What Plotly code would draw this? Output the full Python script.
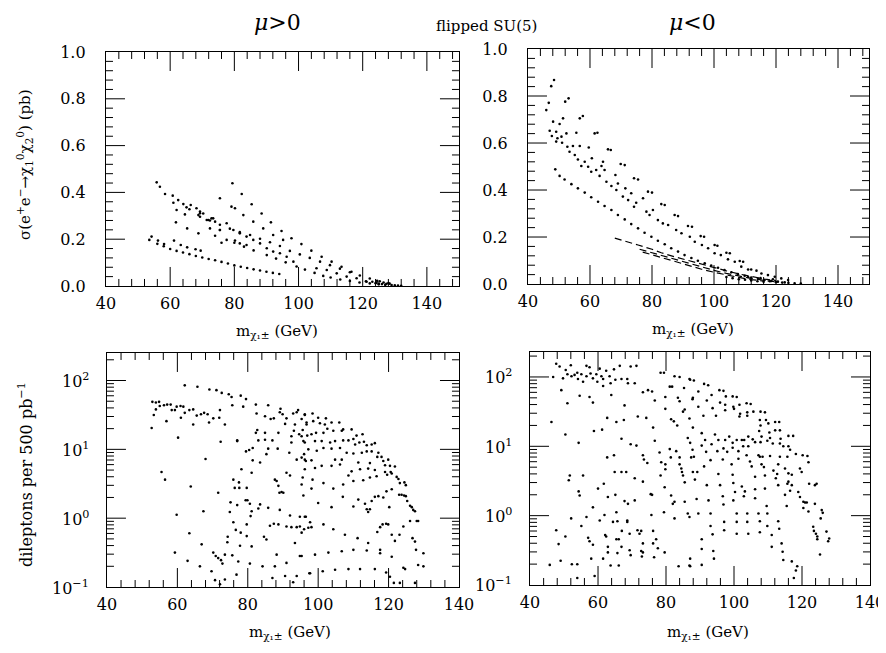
import plotly.graph_objects as go

# ---------------- top left: sigma(e+e- -> chi1 chi2), mu>0 ----------------
tl_scat_x = [55.8, 56.8, 58.4, 60.8, 61.0, 62.5, 64.1, 62.0, 65.1, 66.0, 64.6, 61.8, 66.4, 68.2, 69.3,
             68.8, 70.3, 71.9, 72.9, 74.0, 65.3, 68.8, 72.4, 75.5, 75.5, 76.0, 79.4, 79.1, 80.2, 82.3,
             82.8, 85.4, 85.9, 88.5, 89.0, 91.4, 92.1, 94.7, 95.2, 97.8, 100.9, 104.0, 107.2, 110.3,
             113.4, 116.5, 80.2, 81.7, 83.8, 54.2, 56.2, 58.1, 61.2, 63.3, 65.3, 67.9, 69.5,
             121.0, 123.0, 124.0, 125.0, 126.0, 127.0, 128.0, 129.0, 130.0, 131.0, 132.0, 126.5, 124.5]
tl_scat_y = [0.443, 0.424, 0.393, 0.386, 0.356, 0.367, 0.350, 0.325, 0.336, 0.328, 0.306, 0.272, 0.346,
             0.332, 0.318, 0.303, 0.310, 0.282, 0.289, 0.275, 0.246, 0.225, 0.246, 0.375, 0.239, 0.185,
             0.439, 0.339, 0.332, 0.393, 0.303, 0.349, 0.275, 0.310, 0.246, 0.272, 0.218, 0.235, 0.197,
             0.204, 0.179, 0.151, 0.125, 0.104, 0.082, 0.061, 0.194, 0.182, 0.175, 0.211, 0.194, 0.179,
             0.194, 0.175, 0.165, 0.157, 0.151,
             0.020, 0.018, 0.012, 0.010, 0.008, 0.005, 0.012, 0.004, 0.003, 0.002, 0.001, 0.015, 0.022]
tl_band1_x = [69.3, 72.4, 75.5, 78.6, 81.7, 84.9, 88.0, 91.1, 94.2, 97.3, 100.4, 103.5, 106.7, 109.8,
              112.9, 116.0, 119.1, 122.2, 125.3, 128.4]
tl_band1_y = [0.296, 0.280, 0.262, 0.245, 0.230, 0.218, 0.202, 0.187, 0.171, 0.150, 0.135, 0.120, 0.104,
              0.089, 0.074, 0.059, 0.045, 0.032, 0.020, 0.010]
tl_band1b_x = [69.3, 71.4, 73.4, 75.5, 77.6, 79.7, 81.7, 83.8, 85.9, 88.0, 90.1, 92.1, 94.2, 96.3, 98.4,
               105.6, 108.8, 111.9, 115.0, 118.1, 121.2, 124.3, 127.4]
tl_band1b_y = [0.311, 0.282, 0.289, 0.239, 0.268, 0.239, 0.225, 0.211, 0.197, 0.182, 0.161, 0.147, 0.140,
               0.125, 0.104, 0.076, 0.068, 0.054, 0.040, 0.033, 0.018, 0.014, 0.009]
tl_band2_x = [74.0, 77.6, 80.0, 83.0, 86.0, 90.1, 93.0, 96.0, 99.4, 102.0, 105.0, 107.7, 110.0, 113.0,
              116.0, 119.0, 122.2, 125.0]
tl_band2_y = [0.215, 0.197, 0.185, 0.168, 0.152, 0.132, 0.117, 0.101, 0.083, 0.070, 0.056, 0.043, 0.036,
              0.028, 0.021, 0.015, 0.011, 0.007]
tl_band3_x = [53.5, 56.0, 58.0, 60.0, 62.0, 64.0, 66.0, 68.0, 70.0, 72.0, 74.0, 76.0, 78.0, 80.0, 82.0,
              84.0, 86.0, 88.0, 90.0, 92.0, 94.0]
tl_band3_y = [0.197, 0.180, 0.170, 0.158, 0.150, 0.143, 0.136, 0.128, 0.122, 0.115, 0.110, 0.103, 0.096,
              0.088, 0.082, 0.077, 0.071, 0.066, 0.061, 0.056, 0.051]

# ---------------- top right: sigma, mu<0 ----------------
tr_scat_x = [48.4, 47.5, 46.7, 45.9, 52.0, 53.1, 48.1, 51.3, 50.2, 47.0, 49.1, 47.7, 49.5, 50.8, 52.4,
             55.6, 56.7, 57.7, 49.1, 51.0, 52.7, 53.4, 54.5, 55.1, 56.7, 56.1, 57.2, 58.3, 59.6, 59.4,
             60.6, 61.5, 62.4, 60.4, 62.0, 63.1, 63.7, 64.2, 64.7, 65.3, 65.8, 66.7, 66.9, 68.2, 68.5,
             69.0, 69.9, 71.2, 70.6, 71.4, 72.3, 73.3, 74.2, 75.5, 74.2, 74.9, 77.1, 78.2, 78.7, 80.0,
             79.2, 80.3, 81.9, 83.0, 84.1, 83.5, 85.2, 87.3, 88.4, 87.8, 89.5, 91.6, 92.9, 92.2, 93.8,
             95.7, 96.8, 96.1, 98.1, 100.2, 101.1, 100.2, 102.2, 104.0, 105.1, 104.5, 106.7, 108.3,
             109.4, 108.8, 111.0, 112.0, 113.7, 115.3, 117.4, 119.6, 121.7, 123.9,
             104.0, 106.0, 108.0, 110.0, 112.0, 114.0, 116.0, 118.0, 120.0, 122.0, 124.0, 126.0,
             128.0, 111.0, 115.0, 119.0]
tr_scat_y = [0.868, 0.842, 0.771, 0.740, 0.776, 0.790, 0.691, 0.705, 0.681, 0.652, 0.648, 0.630, 0.620,
             0.627, 0.641, 0.644, 0.705, 0.715, 0.606, 0.601, 0.584, 0.563, 0.587, 0.549, 0.587, 0.530,
             0.502, 0.520, 0.581, 0.499, 0.535, 0.641, 0.644, 0.478, 0.485, 0.460, 0.502, 0.520, 0.485,
             0.435, 0.573, 0.570, 0.417, 0.464, 0.400, 0.428, 0.511, 0.506, 0.372, 0.407, 0.357, 0.386,
             0.450, 0.445, 0.329, 0.346, 0.365, 0.308, 0.393, 0.389, 0.294, 0.315, 0.272, 0.340, 0.336,
             0.258, 0.251, 0.294, 0.289, 0.230, 0.216, 0.247, 0.244, 0.201, 0.180, 0.204, 0.201, 0.166,
             0.152, 0.166, 0.163, 0.131, 0.123, 0.133, 0.131, 0.105, 0.095, 0.098, 0.095, 0.074, 0.062,
             0.062, 0.057, 0.045, 0.038, 0.031, 0.024, 0.017,
             0.030, 0.025, 0.020, 0.018, 0.015, 0.012, 0.010, 0.012, 0.008, 0.006, 0.005, 0.003,
             0.002, 0.030, 0.025, 0.020]
tr_curve_x = [48.8, 50.2, 51.8, 54.0, 56.1, 58.3, 60.4, 62.6, 64.7, 66.9, 69.0, 71.2, 73.3, 75.5, 77.6,
              79.8, 81.9, 84.1, 86.2, 88.4, 90.5, 92.7, 94.8, 97.0, 99.1, 101.3, 103.4, 105.6, 107.7,
              109.9, 112.0, 114.2, 116.3, 118.5, 120.6, 122.8]
tr_curve_y = [0.488, 0.460, 0.445, 0.425, 0.407, 0.389, 0.369, 0.350, 0.332, 0.315, 0.294, 0.275, 0.255,
              0.237, 0.218, 0.201, 0.184, 0.169, 0.152, 0.138, 0.123, 0.111, 0.099, 0.088, 0.079, 0.069,
              0.059, 0.050, 0.042, 0.035, 0.028, 0.022, 0.017, 0.013, 0.010, 0.007]
tr_d1_x = [68, 72, 75.5, 80, 83, 87.3, 91.6, 95.9, 100, 104, 108, 112, 116, 120]
tr_d1_y = [0.195, 0.178, 0.166, 0.148, 0.133, 0.116, 0.100, 0.085, 0.070, 0.056, 0.043, 0.032, 0.022, 0.014]
tr_d2_x = [76, 80, 84, 88, 92, 96, 100, 104, 108, 112, 116, 120]
tr_d2_y = [0.148, 0.133, 0.117, 0.101, 0.086, 0.071, 0.058, 0.045, 0.034, 0.024, 0.016, 0.009]
tr_d3_x = [77, 80, 84, 88, 92, 96, 100, 104, 108, 112, 116]
tr_d3_y = [0.136, 0.124, 0.108, 0.092, 0.077, 0.063, 0.050, 0.038, 0.028, 0.019, 0.012]

# ---------------- bottom left: dileptons per 500 pb^-1, mu>0 (log10 readings) ----------------
bl_x = [62.1, 65.7, 69.1, 71.1, 72.6, 74.6, 75.4, 78.0, 79.5, 52.9, 53.9, 54.8, 55.0, 56.2, 57.1, 58.1,
        59.8, 60.9, 61.7, 53.9, 58.4, 59.3, 63.4, 64.5, 53.3, 62.1, 65.5, 66.7, 67.6, 68.6, 72.1, 75.6,
        78.7, 61.0, 56.9, 70.2, 64.5, 69.0, 73.5, 71.9, 52.7, 60.2, 72.3, 77.0, 68.0, 55.5, 56.5, 63.8,
        71.6, 59.8, 67.4, 63.4, 59.3, 66.9, 62.9, 66.4, 69.7, 70.7, 72.1, 73.5, 70.2, 70.9, 71.6, 72.4,
        72.8, 73.5, 74.3, 74.2, 74.9, 75.6, 77.3, 76.8, 75.9, 76.3, 77.6, 79.7, 78.2, 77.5, 75.1, 77.0,
        79.4, 79.9, 80.6, 81.1, 80.8, 75.9, 76.6, 78.0, 79.7, 79.7, 77.8, 81.1, 77.0, 79.5, 80.4, 81.4,
        81.1, 81.4, 82.3, 82.5, 82.7, 82.3, 83.0, 83.5, 84.9, 84.9, 84.9, 85.3, 85.8, 85.8, 86.5, 87.0,
        87.4, 88.7, 88.5, 89.1, 89.3, 89.9, 90.6, 91.0, 90.1, 91.0, 91.8, 92.0, 92.4, 92.4, 92.9, 93.1,
        93.4, 93.9, 93.9, 94.3, 94.6, 95.3, 95.6, 95.8, 96.0, 96.2, 96.2, 96.5, 96.7, 96.9, 87.7, 88.2,
        88.7, 89.0, 89.6, 83.5, 83.0, 85.8, 86.3, 88.7, 89.1, 92.0, 92.4, 93.9, 96.0, 96.5, 97.2, 84.6,
        85.3, 87.4, 91.0, 88.2, 87.7, 91.0, 93.4, 95.3, 93.9, 90.6, 80.6, 84.2, 87.0, 92.9, 97.5,
        96.2, 98.4, 100.0, 102.2, 103.8, 106.0, 95.3, 96.7, 98.6, 100.5, 101.9, 107.1, 109.5, 110.9,
        112.6, 95.3, 98.1, 99.4, 101.5, 102.6, 104.3, 106.7, 96.2, 99.1, 101.0, 103.4, 104.8, 107.1,
        108.6, 110.0, 110.5, 111.7, 113.0, 113.8, 115.2, 116.1, 97.2, 99.6, 101.5, 103.8, 106.2, 108.1,
        110.0, 112.4, 113.8, 115.2, 117.1, 118.0, 116.8, 118.5, 119.9, 119.0, 120.4, 121.8, 95.3, 96.2,
        98.1, 104.8, 106.7, 111.4, 114.7, 99.1, 101.0, 103.8, 106.2, 109.5, 111.9, 114.2, 116.1, 119.0,
        120.6, 119.6, 120.9, 122.3, 122.8, 123.2, 124.5, 124.9, 95.6, 98.4, 101.5, 104.3, 107.1, 108.6,
        110.0, 112.8, 114.7, 116.6, 119.4, 120.9, 123.0, 123.7, 124.4, 124.9, 125.3, 126.1, 126.6,
        127.0, 127.5, 128.0, 95.8, 98.1, 100.0, 103.8, 107.0, 110.0, 111.4, 113.3, 113.8, 114.2, 114.7,
        115.2, 116.1, 117.1, 118.5, 120.2, 116.8, 117.6, 118.3, 119.3, 119.9, 120.9, 121.8, 123.1,
        124.2, 126.1, 126.8, 127.5, 127.8, 128.4, 129.9, 128.4, 129.9, 94.8, 96.2, 97.7, 101.5, 104.3,
        107.6, 111.2, 114.2, 117.6, 120.9, 94.8, 95.3, 98.1, 99.1, 102.9, 106.7, 110.0, 113.8, 117.6,
        94.8, 97.7, 101.3, 104.8, 108.6, 111.9, 116.1, 119.3, 120.4, 121.5, 124.2, 124.7, 127.5, 123.2]
bl_exp = [1.93, 1.91, 1.87, 1.86, 1.82, 1.80, 1.76, 1.78, 1.73, 1.69, 1.68, 1.69, 1.63, 1.64, 1.65,
          1.65, 1.62, 1.63, 1.62, 1.58, 1.57, 1.57, 1.57, 1.58, 1.50, 1.53, 1.49, 1.51, 1.53, 1.51,
          1.57, 1.64, 1.62, 1.46, 1.41, 1.45, 1.36, 1.39, 1.36, 1.46, 1.31, 1.17, 1.11, 1.12, 0.86,
          0.67, 0.56, 0.46, 0.37, 0.05, 0.10, -0.22, -0.50, -0.38, -0.62, -0.70, -0.77, -0.90, -0.96,
          -0.89, -0.50, -0.55, -0.58, -0.61, -0.66, -0.53, -0.27, -0.35, 0.09, -0.54, -0.63, -0.82,
          0.56, 0.44, 0.44, 0.44, 0.71, 0.52, 0.23, 0.19, 0.26, 0.26, 0.21, 0.10, 0.03, -0.06, -0.17,
          -0.21, -0.09, -0.26, -0.40, -0.41, 1.13, 0.97, 0.99, 1.02, 0.66, 0.84, 1.65, 1.52, 1.28, 1.24,
          1.13, 0.81, 1.14, 1.48, 1.24, 0.93, 1.64, 1.01, 1.44, 1.13, 1.45, 1.24, 1.01, 1.54, 1.59, 1.51,
          1.37, 1.45, 0.37, 0.66, 0.95, 0.62, 1.10, 1.19, 1.52, 1.27, 1.36, 0.85, 1.54, 1.57, 1.22, 0.49,
          1.28, 1.12, 0.93, 1.51, 0.71, 0.83, 1.36, 1.20, 0.56, 0.54, 0.47, 0.37, 0.38, 0.20, 0.14, 0.15,
          -0.11, -0.09, 0.12, 0.04, -0.13, -0.13, -0.16, 0.02, -0.14, -0.27, -0.31, -0.08, -0.12, -0.53,
          -0.70, -0.65, -0.36, -0.55, -0.84, -0.84, -0.66, -0.70, -0.87, -0.93, -0.80,
          1.50, 1.52, 1.46, 1.45, 1.39, 1.39, 1.44, 1.39, 1.41, 1.38, 1.36, 1.29, 1.29, 1.20, 1.22, 1.19,
          1.22, 1.24, 1.24, 1.30, 1.27, 1.27, 1.10, 1.12, 1.12, 1.10, 1.12, 1.13, 1.13, 1.15, 1.07, 1.10,
          1.11, 1.06, 1.07, 1.09, 1.00, 0.98, 1.02, 1.01, 1.02, 0.95, 0.94, 0.95, 0.97, 0.97, 0.95, 0.89,
          0.89, 0.83, 0.85, 0.77, 0.76, 0.75, 0.88, 0.85, 0.84, 0.85, 0.85, 0.81, 0.80, 0.73, 0.76, 0.76,
          0.78, 0.68, 0.71, 0.72, 0.70, 0.67, 0.67, 0.63, 0.65, 0.60, 0.57, 0.51, 0.52, 0.48, 0.59, 0.56,
          0.51, 0.43, 0.49, 0.62, 0.54, 0.55, 0.59, 0.61, 0.39, 0.42, 0.34, 0.34, 0.33, 0.32, 0.25, 0.18,
          0.16, 0.12, 0.10, -0.04, 0.33, 0.43, 0.22, 0.16, 0.31, 0.17, 0.27, 0.21, 0.13, 0.09, 0.13, 0.25,
          0.31, 0.32, 0.30, 0.16, -0.20, -0.13, -0.09, -0.08, -0.09, -0.24, -0.33, -0.24, -0.12, -0.04,
          -0.29, -0.34, -0.46, -0.04, -0.51, -0.68, -0.70, 0.02, 0.02, -0.06, -0.09, -0.16, -0.24, -0.29,
          -0.36, -0.46, -0.56, -0.12, -0.21, -0.13, -0.53, -0.50, -0.48, -0.46, -0.47, -0.51, -0.55,
          -0.80, -0.77, -0.75, -0.74, -0.74, -0.74, -0.79, -0.85, -0.94, -0.72, -0.74, -0.94, -0.94]

# ---------------- bottom right: dileptons per 500 pb^-1, mu<0 (log10 readings) ----------------
br_x = [47.7, 48.7, 52.0, 46.8, 49.7, 50.5, 51.0, 52.2, 53.1, 53.9, 54.1, 55.1, 55.6, 56.6, 56.6, 57.5,
        57.8, 58.5, 59.5, 59.8, 60.5, 61.0, 61.5, 62.4, 63.4, 63.7, 64.7, 65.1, 66.4, 66.9, 68.6, 68.8,
        69.6, 70.8, 71.3, 73.2, 74.7, 75.9, 76.7, 78.4, 79.4, 79.8, 79.8, 82.5, 84.0, 81.1, 81.8, 83.5,
        84.0, 85.5, 85.3, 86.9, 87.9, 49.2, 54.6, 57.5, 51.0, 58.5, 61.5, 63.9, 67.8, 71.7, 74.2, 76.2,
        81.5, 82.3, 83.3, 85.0, 86.4, 86.9, 87.9, 46.3, 62.7, 65.4, 67.6, 58.8, 61.2, 50.4, 54.3, 66.9,
        69.6, 71.3, 73.2, 73.5, 74.5, 76.7, 78.1, 78.6, 79.8, 79.8, 81.1, 81.4, 83.0, 84.0, 84.0, 84.5,
        84.7, 85.0, 87.4, 87.9, 62.7, 64.7, 51.7, 51.4, 55.6, 61.7, 64.9, 66.9, 68.3, 70.8, 73.2, 75.5,
        75.9, 78.4, 79.6, 81.5, 82.0, 82.5, 85.5, 85.5, 54.3, 54.6, 60.0, 62.9, 65.1, 67.8, 68.8, 70.8,
        58.5, 61.9, 65.4, 68.6, 75.7, 79.4, 82.5, 86.4, 86.9, 52.1, 56.6, 55.1, 60.5, 64.4, 65.7, 68.6,
        47.7, 50.4, 57.1, 62.1, 62.4, 65.4, 66.1, 67.0, 69.3, 71.6, 72.7, 72.2, 73.2, 76.2, 77.1, 76.2,
        48.4, 57.5, 58.5, 62.9, 66.9, 69.3, 72.7, 73.2, 77.6, 79.6, 62.9, 65.7, 69.6, 72.9, 76.5, 58.0,
        61.5, 49.0, 52.3, 53.9, 45.8, 63.7, 66.1, 83.7, 86.9, 59.0, 53.9,
        87.1, 88.2, 91.2, 92.4, 89.5, 93.4, 95.7, 96.9, 97.6, 99.6, 100.8, 87.8, 92.0, 95.9, 97.4, 101.6,
        103.7, 104.9, 89.5, 93.7, 97.4, 99.8, 100.0, 101.8, 103.9, 105.7, 107.8, 109.1, 91.0, 94.7,
        101.6, 103.9, 107.6, 109.4, 107.8, 110.1, 112.1, 113.3, 107.4, 110.4, 112.1, 113.5, 108.1, 110.6,
        113.7, 116.0, 117.4, 90.5, 94.4, 98.6, 100.8, 104.2, 91.5, 95.4, 97.4, 99.6, 102.3, 103.0, 105.5,
        106.2, 107.8, 109.8, 111.4, 113.5, 114.5, 116.0, 87.1, 90.5, 93.4, 96.9, 99.6, 102.7, 104.2,
        87.8, 91.8, 95.1, 98.0, 101.3, 103.7, 107.2, 107.6, 108.4, 110.6, 113.5, 115.7, 116.5, 118.2,
        120.2, 121.6, 88.2, 93.1, 96.7, 99.3, 101.3, 104.7, 105.2, 108.1, 108.8, 113.0, 111.6, 112.7,
        115.0, 116.0, 117.0, 119.4, 119.9, 121.9, 122.1, 123.8, 124.3, 91.2, 89.2, 95.4, 99.6, 106.2,
        109.1, 112.3, 116.0, 115.7, 117.0, 88.5, 92.0, 95.9, 99.8, 102.3, 100.3, 103.2, 106.2, 109.1,
        113.0, 115.0, 116.5, 118.9, 119.4, 120.4, 120.9, 121.4, 120.4, 121.9, 123.8, 125.8, 126.1, 89.0,
        92.5, 96.7, 99.8, 102.9, 106.2, 109.6, 115.5, 89.5, 93.1, 96.9, 100.8, 103.9, 107.2, 109.8,
        113.0, 93.1, 97.1, 100.8, 103.9, 107.6, 109.8, 113.3, 123.3, 123.5, 124.1, 124.5, 124.5, 127.2,
        128.0, 127.7, 125.5, 125.3, 90.5, 93.7, 97.1, 100.8, 104.2, 107.6, 111.1, 114.0, 93.9, 90.5,
        111.1, 114.3, 114.5, 117.0, 94.1, 90.5, 87.1, 87.1, 118.6, 118.2, 117.6]
br_exp = [2.19, 2.15, 2.17, 2.00, 1.98, 2.10, 2.04, 2.01, 2.03, 2.06, 1.97, 2.04, 1.93, 2.16, 2.01,
          2.14, 2.05, 1.98, 2.04, 1.93, 2.12, 2.01, 1.97, 2.09, 2.01, 1.91, 2.11, 1.96, 2.16, 1.97, 1.97,
          1.91, 2.15, 1.91, 2.16, 1.78, 1.81, 1.79, 1.66, 2.06, 2.06, 1.71, 1.54, 2.01, 2.00, 1.86, 1.86,
          1.70, 1.65, 1.53, 1.84, 1.97, 1.70, 1.81, 1.73, 1.71, 1.62, 1.63, 1.87, 1.74, 1.59, 1.43, 1.41,
          1.27, 1.39, 1.36, 1.30, 1.50, 1.12, 1.40, 1.27, 1.35, 1.41, 1.35, 1.38, 1.22, 1.24, 1.17, 1.05,
          1.11, 1.03, 1.01, 0.87, 0.81, 0.76, 1.08, 0.91, 0.77, 0.74, 0.67, 0.96, 0.84, 0.93, 0.84, 0.74,
          0.68, 0.63, 0.58, 0.84, 0.63, 0.84, 0.87, 0.58, 0.51, 0.58, 0.46, 0.63, 0.63, 0.63, 0.54, 0.49,
          0.31, 0.30, 0.58, 0.41, 0.29, 0.17, 0.20, 0.48, 0.20, 0.35, 0.29, 0.39, 0.27, 0.30, 0.21, 0.17,
          0.22, 0.12, 0.01, 0.05, -0.07, 0.01, 0.05, -0.04, 0.03, -0.02, -0.04, -0.02, -0.15, -0.07,
          -0.09, -0.08, -0.09, -0.21, -0.30, -0.32, -0.28, -0.30, -0.34, -0.34, -0.22, -0.26, -0.21,
          -0.22, -0.26, -0.40, -0.22, -0.34, -0.40, -0.41, -0.37, -0.42, -0.45, -0.45, -0.50, -0.51,
          -0.53, -0.47, -0.53, -0.53, -0.54, -0.57, -0.59, -0.60, -0.62, -0.62, -0.65, -0.70, -0.70,
          -0.71, -0.72, -0.72, -0.73, -0.72, -0.87, -0.90,
          1.96, 1.95, 1.90, 1.88, 1.79, 1.74, 1.81, 1.80, 1.72, 1.72, 1.71, 1.68, 1.66, 1.63, 1.60, 1.60,
          1.62, 1.61, 1.57, 1.55, 1.52, 1.57, 1.54, 1.47, 1.49, 1.50, 1.50, 1.49, 1.44, 1.44, 1.43, 1.44,
          1.38, 1.38, 1.30, 1.33, 1.35, 1.35, 1.22, 1.20, 1.23, 1.23, 1.14, 1.12, 1.11, 1.15, 1.15, 1.19,
          1.17, 1.14, 1.09, 1.14, 1.09, 1.09, 1.09, 1.05, 1.09, 1.09, 1.10, 1.06, 1.06, 1.08, 1.04, 1.04,
          1.00, 1.00, 1.05, 1.01, 1.03, 0.97, 0.98, 1.00, 1.00, 0.95, 0.92, 0.93, 0.92, 0.93, 0.87, 0.87,
          0.85, 0.85, 0.86, 0.85, 0.85, 0.95, 0.89, 0.87, 0.86, 0.85, 0.80, 0.81, 0.74, 0.82, 0.78, 0.71,
          0.74, 0.70, 0.74, 0.65, 0.60, 0.68, 0.61, 0.59, 0.68, 0.63, 0.77, 0.46, 0.44, 0.46, 0.71, 0.63,
          0.60, 0.59, 0.56, 0.58, 0.54, 0.49, 0.46, 0.44, 0.52, 0.44, 0.44, 0.47, 0.42, 0.34, 0.35, 0.38,
          0.39, 0.44, 0.30, 0.36, 0.34, 0.27, 0.20, 0.19, 0.19, 0.11, 0.06, 0.17, 0.08, 0.04, 0.24, 0.22,
          0.28, 0.22, 0.28, 0.25, 0.14, 0.14, 0.03, 0.03, 0.16, 0.03, 0.03, 0.03, 0.03, -0.08, -0.15,
          -0.09, -0.09, -0.09, -0.08, -0.15, -0.19, -0.16, -0.22, -0.26, -0.30, -0.34, -0.23, -0.33,
          -0.37, -0.04, -0.56, -0.34, -0.27, -0.21, -0.26, -0.26, -0.24, -0.28, -0.40, -0.51, -0.48,
          -0.45, -0.52, -0.64, -0.66, -0.62, -0.71, -0.62, -0.73, -0.73, -0.79, -0.90]

# decade labels of the log axes
log_exps = [-1, 0, 1, 2]
log_labels = ["10<sup>\u22121</sup>", "10<sup>0</sup>", "10<sup>1</sup>", "10<sup>2</sup>"]

bl_y = [10 ** e for e in bl_exp]
br_y = [10 ** e for e in br_exp]

W, H = 886, 653
serif = "DejaVu Serif"
fig = go.Figure()


def dots(x, y, xa, ya, size=2.6):
    fig.add_trace(go.Scatter(x=x, y=y, mode="markers", xaxis=xa, yaxis=ya,
                             marker=dict(size=size, color="black"), showlegend=False))


def dashed(x, y, xa, ya):
    fig.add_trace(go.Scatter(x=x, y=y, mode="lines", xaxis=xa, yaxis=ya,
                             line=dict(color="black", width=1.2, dash="7px,4px"), showlegend=False))


dots(tl_scat_x, tl_scat_y, "x", "y")
dots(tl_band1_x, tl_band1_y, "x", "y")
dots(tl_band1b_x, tl_band1b_y, "x", "y")
dots(tl_band2_x, tl_band2_y, "x", "y")
dots(tl_band3_x, tl_band3_y, "x", "y")

dots(tr_scat_x, tr_scat_y, "x2", "y2")
dots(tr_curve_x, tr_curve_y, "x2", "y2")
dashed(tr_d1_x, tr_d1_y, "x2", "y2")
dashed(tr_d2_x, tr_d2_y, "x2", "y2")
dashed(tr_d3_x, tr_d3_y, "x2", "y2")

dots(bl_x, bl_y, "x3", "y3")
dots(br_x, br_y, "x4", "y4")

# panel geometry: x axis, y axis, x domain, y domain, x max, log y?, y range (axis units)
panels = [
    ("x", "y", [0.1106, 0.509], [0.5743, 0.9326], 150, False, (0, 1)),
    ("x2", "y2", [0.5869, 0.9718], [0.5773, 0.9372], 150, False, (0, 1)),
    ("x3", "y3", [0.1117, 0.509], [0.1133, 0.4717], 140, True, (-1, 2.4)),
    ("x4", "y4", [0.5892, 0.9729], [0.1164, 0.4732], 140, True, (-1, 2.36)),
]

# inside frame ticks (long majors, short minors on all four sides) drawn as one line trace per panel
log_minor = [m * 10 ** e for e in range(-1, 3) for m in range(2, 10)]
for xa, ya, xd, yd, xmax, is_log, (ylo, yhi) in panels:
    wpx = (xd[1] - xd[0]) * W
    hpx = (yd[1] - yd[0]) * H
    x_major = list(range(60, xmax, 20))
    x_minor = [v for v in range(44, xmax, 4) if v % 20]
    if is_log:
        y_major = [v for v in (1, 10, 100) if v < 10 ** yhi]
        y_minor = [v for v in log_minor if v < 10 ** yhi]
    else:
        y_major = [k / 5 for k in range(1, 5)]
        y_minor = [k / 25 for k in range(1, 25) if k % 5]

    def yv(u):
        return 10 ** u if is_log else u

    tx, ty = [], []
    for vals, L in ((x_major, 19), (x_minor, 7)):
        d = L / hpx * (yhi - ylo)
        for v in vals:
            tx += [v, v, None, v, v, None]
            ty += [yv(ylo), yv(ylo + d), None, yv(yhi), yv(yhi - d), None]
    for vals, L in ((y_major, 19), (y_minor, 7)):
        d = L / wpx * (xmax - 40)
        for v in vals:
            tx += [40, 40 + d, None, xmax, xmax - d, None]
            ty += [v, v, None, v, v, None]
    fig.add_trace(go.Scatter(x=tx, y=ty, mode="lines", xaxis=xa, yaxis=ya, hoverinfo="skip",
                             line=dict(color="black", width=1), showlegend=False))

base = dict(showline=True, linecolor="black", linewidth=1.3, mirror=True, ticks="",
            showgrid=False, zeroline=False)
xlin = dict(base, dtick=20, ticklabelstandoff=3)
ylin = dict(base, range=[0, 1], dtick=0.2, tickformat=".1f", ticklabelstandoff=16)
ylog = dict(base, type="log", dtick=1, showticklabels=False)

fig.update_layout(
    width=W, height=H, margin=dict(l=0, r=0, t=0, b=0, autoexpand=False),
    plot_bgcolor="white", paper_bgcolor="white",
    font=dict(family=serif, size=16, color="black"),
    xaxis=dict(xlin, domain=panels[0][2], range=[40, 150], anchor="y"),
    yaxis=dict(ylin, domain=panels[0][3], anchor="x"),
    xaxis2=dict(xlin, domain=panels[1][2], range=[40, 150], anchor="y2"),
    yaxis2=dict(ylin, domain=panels[1][3], anchor="x2"),
    xaxis3=dict(xlin, domain=panels[2][2], range=[40, 140], anchor="y3"),
    yaxis3=dict(ylog, domain=panels[2][3], range=[-1, 2.4], anchor="x3"),
    xaxis4=dict(xlin, domain=panels[3][2], range=[40, 140], anchor="y4"),
    yaxis4=dict(ylog, domain=panels[3][3], range=[-1, 2.36], anchor="x4"),
)

for xa, ya in (("x3", "y3"), ("x4", "y4")):
    for e, lab in zip(log_exps, log_labels):
        fig.add_annotation(x=0, y=e, xref=xa + " domain", yref=ya, text=lab, showarrow=False,
                           xanchor="right", yanchor="middle", xshift=-16,
                           font=dict(family=serif, size=16, color="black"))

xt = "m<sub>\u03c7\u2081\u00b1</sub> (GeV)"
ann = [
    (0.3047, 1.0, "<i>\u03bc</i>>0", 22, 0, "top"),
    (0.7731, 1.0, "<i>\u03bc</i><0", 22, 0, "top"),
    (0.5406, 0.9724, "flipped SU(5)", 15, 0, "middle"),
    (0.3036, 0.505, xt, 15, 0, "middle"),
    (0.7731, 0.508, xt, 15, 0, "middle"),
    (0.3183, 0.0429, xt, 15, 0, "middle"),
    (0.7901, 0.0429, xt, 15, 0, "middle"),
    (0.0192, 0.7596, "\u03c3(e<sup>+</sup>e<sup>\u2212</sup>\u2192\u03c7<sub>1</sub><sup>0</sup>"
                     "\u03c7<sub>2</sub><sup>0</sup>) (pb)", 15, -90, "middle"),
    (0.0192, 0.2848, "dileptons per 500 pb<sup>\u22121</sup>", 16, -90, "middle"),
]
for x, y, text, size, angle, ya in ann:
    fig.add_annotation(x=x, y=y, text=text, xref="paper", yref="paper", showarrow=False,
                       xanchor="center", yanchor=ya, textangle=angle,
                       font=dict(family=serif, size=size, color="black"))

fig.write_html("out.html")
